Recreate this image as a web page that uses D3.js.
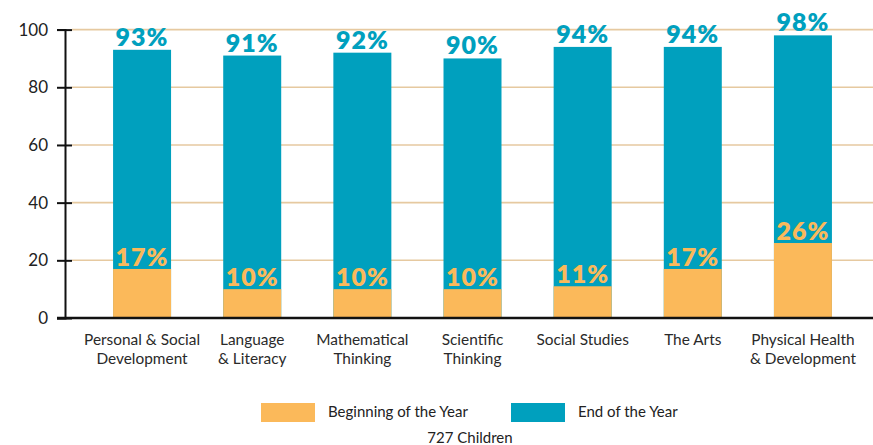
<!DOCTYPE html>
<html>
<head>
<meta charset="utf-8">
<script src="https://cdn.jsdelivr.net/npm/d3@7"></script>
<style>
  body { margin: 0; background: #fff; }
  svg { display: block; font-family: Lato, "Open Sans", sans-serif; }
</style>
</head>
<body>
<svg id="chart" width="873" height="445"></svg>
<script>
const categories = [
  ['Personal & Social', 'Development'],
  ['Language', '& Literacy'],
  ['Mathematical', 'Thinking'],
  ['Scientific', 'Thinking'],
  ['Social Studies'],
  ['The Arts'],
  ['Physical Health', '& Development']
];
const beginning = [17, 10, 10, 10, 11, 17, 26];
const endYear = [93, 91, 92, 90, 94, 94, 98];
const yTicks = [0, 20, 40, 60, 80, 100];
const seriesNames = ['Beginning of the Year', 'End of the Year'];
const note = '727 Children';

const orange = '#fbb95a';
const blue = '#00a0be';
const svg = d3.select('#chart');

const x = d3.scaleBand()
  .domain(d3.range(categories.length))
  .range([87, 858])
  .paddingInner(0.4735)
  .paddingOuter(0.2367);
const y = d3.scaleLinear().domain([0, 100]).range([318, 29.6]);

// gridlines
svg.append('g')
  .selectAll('line')
  .data(yTicks.filter(d => d > 0))
  .enter()
  .append('line')
  .attr('x1', 72).attr('x2', 873)
  .attr('y1', d => y(d)).attr('y2', d => y(d))
  .attr('stroke', '#e6c9a0')
  .attr('stroke-width', 1.6);

// y axis
const yAxis = svg.append('g')
  .attr('transform', 'translate(65,0)')
  .call(d3.axisLeft(y).tickValues(yTicks).tickSize(8).tickPadding(9));
yAxis.select('.domain').attr('stroke', '#111').attr('stroke-width', 2);
yAxis.selectAll('.tick line').clone().attr('x2', 7);
yAxis.selectAll('.tick line').attr('stroke', '#111').attr('stroke-width', 2);
yAxis.selectAll('.tick text')
  .attr('font-size', 17)
  .attr('fill', '#222')
  .attr('font-family', 'Lato, sans-serif');

const bars = svg.append('g');
bars.selectAll('rect.end')
  .data(endYear)
  .enter()
  .append('rect')
  .attr('class', 'end')
  .attr('x', (d, i) => x(i))
  .attr('y', d => y(d))
  .attr('width', x.bandwidth())
  .attr('height', d => y(0) - y(d))
  .attr('fill', blue);
bars.selectAll('rect.beg')
  .data(beginning)
  .enter()
  .append('rect')
  .attr('class', 'beg')
  .attr('x', (d, i) => x(i))
  .attr('y', d => y(d))
  .attr('width', x.bandwidth())
  .attr('height', d => y(0) - y(d))
  .attr('fill', orange);

// baseline
svg.append('line')
  .attr('x1', 57).attr('x2', 873)
  .attr('y1', y(0)).attr('y2', y(0))
  .attr('stroke', '#111').attr('stroke-width', 2.5);

// value labels
const labels = svg.append('g')
  .attr('font-weight', 800)
  .attr('font-size', 25)
  .attr('text-anchor', 'middle')
  .attr('letter-spacing', 1);
labels.selectAll('text.end')
  .data(endYear)
  .enter()
  .append('text')
  .attr('x', (d, i) => x(i) + x.bandwidth() / 2)
  .attr('y', d => y(d) - 4)
  .attr('fill', blue)
  .text(d => d + '%');
labels.selectAll('text.beg')
  .data(beginning)
  .enter()
  .append('text')
  .attr('x', (d, i) => x(i) + x.bandwidth() / 2)
  .attr('y', d => y(d) - 3)
  .attr('fill', orange)
  .text(d => d + '%');

// category labels
const cat = svg.append('g')
  .attr('font-size', 15.4)
  .attr('fill', '#2a2a2a')
  .attr('text-anchor', 'middle');
categories.forEach((lines, i) => {
  const t = cat.append('text')
    .attr('x', x(i) + x.bandwidth() / 2)
    .attr('y', 345);
  lines.forEach((l, j) => {
    t.append('tspan')
      .attr('x', x(i) + x.bandwidth() / 2)
      .attr('dy', j === 0 ? 0 : 19)
      .text(l);
  });
});

// legend
const legendX = [261, 511];
const legend = svg.append('g');
seriesNames.forEach((name, i) => {
  legend.append('rect')
    .attr('x', legendX[i]).attr('y', 403)
    .attr('width', 54).attr('height', 19)
    .attr('fill', i === 0 ? orange : blue);
  legend.append('text')
    .attr('x', legendX[i] + 67).attr('y', 417)
    .attr('font-size', 15)
    .attr('fill', '#222')
    .text(name);
});
svg.append('text')
  .attr('x', 470).attr('y', 443)
  .attr('text-anchor', 'middle')
  .attr('font-size', 15)
  .attr('fill', '#222')
  .text(note);
</script>
</body>
</html>
